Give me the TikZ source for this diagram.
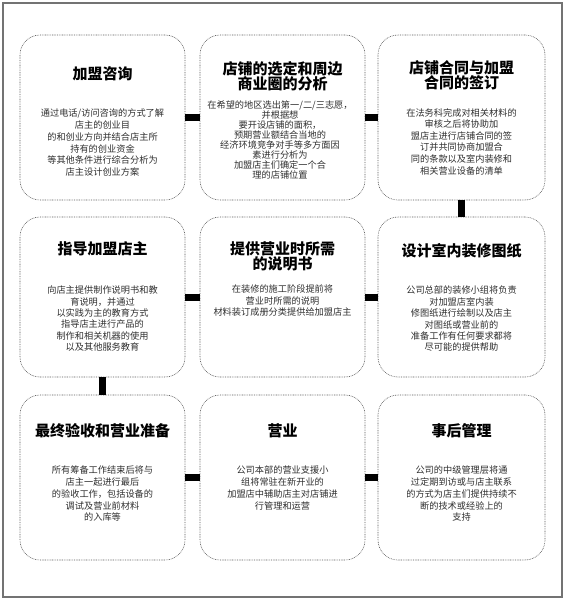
\documentclass[tikz,border=0pt]{standalone}
\usepackage{fontspec}
\newfontfamily\cjk{Noto Sans CJK SC}
\begin{document}
\begin{tikzpicture}[x=1pt,y=-1pt,
  card/.style={draw=black!65, dash pattern=on 0.8pt off 0.9pt, line width=0.6pt, rounded corners=20pt, minimum width=165pt, minimum height=165pt, inner sep=0pt},
  ttl/.style={anchor=north, align=center, inner sep=0pt, text=black, font=\cjk\bfseries\fontsize{15}{15}\selectfont},
  body/.style={anchor=north, align=center, inner sep=0pt, text=black!82, font=\cjk\fontsize{9.2}{11.6}\selectfont},
  bar/.style={line width=7pt, black}]
\useasboundingbox (0,0) rectangle (564,600);
\draw[black!55, line width=1.2pt] (3,3) rectangle (562,597);
% boxes
\node[card] (b1) at (102.5,117.5) {};
\node[card] (b2) at (282.5,117.5) {};
\node[card, minimum width=167pt] (b3) at (461.5,117.5) {};
\node[card, minimum height=160pt] (b4) at (102.5,297) {};
\node[card, minimum height=160pt] (b5) at (282.5,297) {};
\node[card, minimum height=160pt, minimum width=167pt] (b6) at (461.5,297) {};
\node[card] (b7) at (102.5,477.5) {};
\node[card] (b8) at (282.5,477.5) {};
\node[card, minimum width=167pt] (b9) at (461.5,477.5) {};
% connectors
\draw[bar] (b1.east) -- (b2.west);
\draw[bar] (b2.east) -- (b3.west);
\draw[bar] (b3.south) -- (b6.north);
\draw[bar] (b6.west) -- (b5.east);
\draw[bar] (b5.west) -- (b4.east);
\draw[bar] (b4.south) -- (b7.north);
\draw[bar] (b7.east) -- (b8.west);
\draw[bar] (b8.east) -- (b9.west);
% texts
\node[ttl] (t1) at (102.5,66) {加盟咨询};
\node[body, font=\cjk\fontsize{9.2}{11.7}\selectfont] (d1) at (102.5,109) {通过电话/访问咨询的方式了解\\店主的创业目\\的和创业方向并结合店主所\\持有的创业资金\\等其他条件进行综合分析为\\店主设计创业方案};
\node[ttl, font=\cjk\bfseries\fontsize{15}{14.5}\selectfont] (t2) at (282.5,61) {店铺的选定和周边\\商业圈的分析};
\node[body, font=\cjk\fontsize{9.2}{10}\selectfont] (d2) at (280,101) {在希望的地区选出第一/二/三志愿，\\并根据想\\要开设店铺的面积，\\预期营业额结合当地的\\经济环境竞争对手等多方面因\\素进行分析为\\加盟店主们确定一个合\\理的店铺位置};
\node[ttl] (t3) at (461.5,60) {店铺合同与加盟\\合同的签订};
\node[body] (d3) at (461.5,108) {在法务科完成对相关材料的\\审核之后将协助加\\盟店主进行店铺合同的签\\订并共同协商加盟合\\同的条款以及室内装修和\\相关营业设备的清单};
\node[ttl] (t4) at (102.5,241) {指导加盟店主};
\node[body, font=\cjk\fontsize{9.2}{11.3}\selectfont] (d4) at (102.5,286) {向店主提供制作说明书和教\\育说明，并通过\\以实践为主的教育方式\\指导店主进行产品的\\制作和相关机器的使用\\以及其他服务教育};
\node[ttl] (t5) at (282.5,241) {提供营业时所需\\的说明书};
\node[body, font=\cjk\fontsize{9.2}{11.5}\selectfont] (d5) at (282.5,285) {在装修的施工阶段提前将\\营业时所需的说明\\材料装订成册分类提供给加盟店主};
\node[ttl] (t6) at (461.5,243) {设计室内装修图纸};
\node[body, font=\cjk\fontsize{9.2}{11.4}\selectfont] (d6) at (461.5,286) {公司总部的装修小组将负责\\对加盟店室内装\\修图纸进行绘制以及店主\\对图纸或营业前的\\准备工作有任何要求都将\\尽可能的提供帮助};
\node[ttl] (t7) at (102.5,423) {最终验收和营业准备};
\node[body, font=\cjk\fontsize{9.2}{11.7}\selectfont] (d7) at (102.5,466) {所有筹备工作结束后将与\\店主一起进行最后\\的验收工作，包括设备的\\调试及营业前材料\\的入库等};
\node[ttl] (t8) at (282.5,423) {营业};
\node[body, font=\cjk\fontsize{9.2}{11.7}\selectfont] (d8) at (282.5,466) {公司本部的营业支援小\\组将常驻在新开业的\\加盟店中辅助店主对店铺进\\行管理和运营};
\node[ttl] (t9) at (461.5,423) {事后管理};
\node[body, font=\cjk\fontsize{9.2}{11.7}\selectfont] (d9) at (461.5,466) {公司的中级管理层将通\\过定期到访或与店主联系\\的方式为店主们提供持续不\\断的技术或经验上的\\支持};
\end{tikzpicture}
\end{document}
